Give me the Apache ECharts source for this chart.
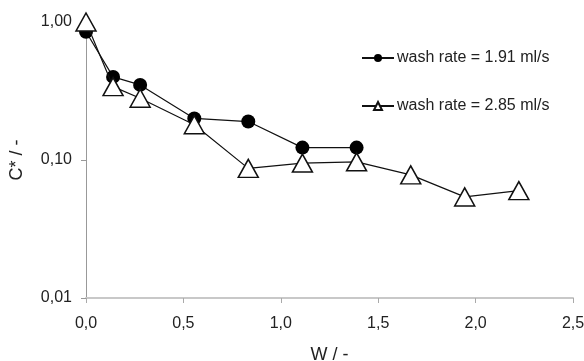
<!DOCTYPE html>
<html>
<head>
<meta charset="utf-8">
<script src="https://cdn.jsdelivr.net/npm/echarts@6/dist/echarts.min.js"></script>
<style>
  html, body { margin: 0; padding: 0; background: #fff; }
  #chart { width: 584px; height: 361px; }
</style>
</head>
<body>
<div id="chart"></div>
<script>
// data
const wSlow = [0, 0.139, 0.278, 0.556, 0.833, 1.111, 1.389]
const cSlow = [0.85, 0.40, 0.35, 0.20, 0.19, 0.123, 0.123]
const wFast = [0, 0.139, 0.278, 0.556, 0.833, 1.111, 1.389, 1.667, 1.944, 2.222]
const cFast = [1.0, 0.34, 0.28, 0.18, 0.087, 0.095, 0.097, 0.078, 0.054, 0.060]
const seriesNames = ['wash rate = 1.91 ml/s', 'wash rate = 2.85 ml/s']

const font = 'Liberation Sans, Arial, sans-serif'
const pairs = (xs, ys) => xs.map((x, i) => [x, ys[i]])

const chart = echarts.init(document.getElementById('chart'), null, { renderer: 'canvas' })

const option = {
  animation: false,
  textStyle: { fontFamily: font },
  grid: { left: 86, right: 11, top: 22, bottom: 63, containLabel: false, outerBoundsMode: 'none' },
  legend: {
    orient: 'vertical',
    left: 356,
    top: 45,
    itemGap: 32,
    itemWidth: 32,
    itemHeight: 10,
    textStyle: { fontSize: 16, color: '#222', fontFamily: font, padding: [0, 0, 0, -2] },
    data: seriesNames
  },
  xAxis: {
    type: 'value',
    min: 0,
    max: 2.5,
    interval: 0.5,
    name: 'W / -',
    nameLocation: 'middle',
    nameGap: 48,
    nameTextStyle: { fontSize: 18, color: '#222' },
    axisLine: { lineStyle: { color: '#c8c8c8', width: 2 } },
    axisTick: { show: true, length: 5, lineStyle: { color: '#aaa' } },
    axisLabel: {
      fontSize: 16, color: '#222', margin: 18,
      formatter: v => v.toFixed(1).replace('.', ',')
    },
    splitLine: { show: false }
  },
  yAxis: {
    type: 'log',
    logBase: 10,
    min: 0.01,
    max: 1,
    name: 'C* / -',
    nameLocation: 'middle',
    nameGap: 60,
    nameRotate: 90,
    nameTextStyle: { fontSize: 18, color: '#222' },
    axisLine: { show: true, lineStyle: { color: '#999', width: 1 } },
    axisTick: { show: true, length: 5, lineStyle: { color: '#999' } },
    axisLabel: {
      fontSize: 16, color: '#222', margin: 14,
      formatter: v => v.toFixed(2).replace('.', ',')
    },
    splitLine: { show: false }
  },
  series: [
    {
      name: seriesNames[0],
      type: 'line',
      data: pairs(wSlow, cSlow),
      symbol: 'circle',
      symbolSize: 14,
      lineStyle: { color: '#111', width: 1.2 },
      itemStyle: { color: '#000', borderColor: '#000', borderWidth: 0 },
      z: 2
    },
    {
      name: seriesNames[1],
      type: 'line',
      data: pairs(wFast, cFast),
      symbol: 'triangle',
      symbolSize: [20, 18],
      lineStyle: { color: '#111', width: 1.2 },
      itemStyle: { color: '#fff', borderColor: '#111', borderWidth: 1.5 },
      z: 3
    }
  ]
}

chart.setOption(option)
</script>
</body>
</html>
